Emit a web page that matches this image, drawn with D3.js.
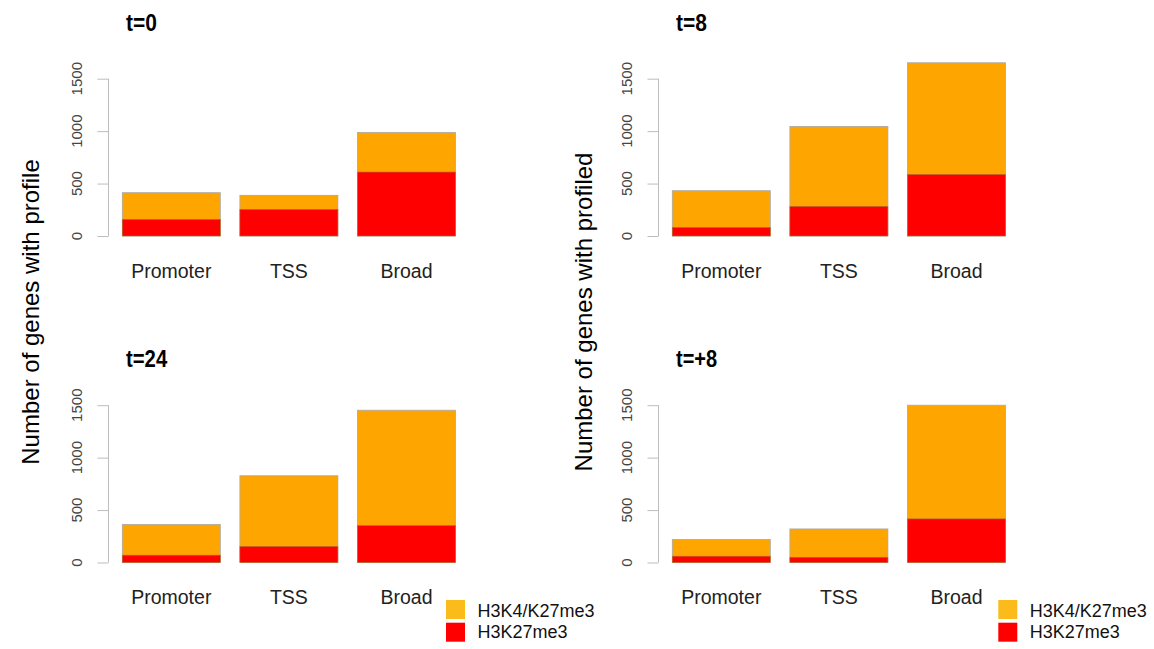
<!DOCTYPE html>
<html>
<head>
<meta charset="utf-8">
<script src="https://cdn.jsdelivr.net/npm/d3@7"></script>
<style>
  html, body { margin: 0; padding: 0; background: #fff; }
  svg text { font-family: "Liberation Sans", Arial, Helvetica, sans-serif; }
</style>
</head>
<body>
<svg id="chart" width="1154" height="649"></svg>
<script>
// ---- data ----
const categories = ["Promoter", "TSS", "Broad"];
const panelTitles = ["t=0", "t=8", "t=24", "t=+8"];
// H3K27me3 (red, bottom segment)
const k27_t0   = [159, 254, 610];
const k27_t8   = [82, 282, 587];
const k27_t24  = [70, 153, 353];
const k27_tp8  = [60, 50, 416];
// total height (H3K27me3 + H3K4/K27me3)
const total_t0  = [413, 388, 988];
const total_t8  = [432, 1045, 1652];
const total_t24 = [363, 827, 1452];
const total_tp8 = [219, 320, 1500];
const yTicks = [0, 500, 1000, 1500];
const seriesNames = ["H3K4/K27me3", "H3K27me3"];
const yTitles = ["Number of genes with profile", "Number of genes with profiled"];

const colOrange = "#ffa500", colRed = "#ff0000", legOrange = "#fbbb1b";

const panels = [
  {title: panelTitles[0], red: k27_t0,  total: total_t0,  dx: 0,   dy: 0,     titleY: 30.5},
  {title: panelTitles[1], red: k27_t8,  total: total_t8,  dx: 550, dy: 0,     titleY: 30.5},
  {title: panelTitles[2], red: k27_t24, total: total_t24, dx: 0,   dy: 326.5, titleY: 367},
  {title: panelTitles[3], red: k27_tp8, total: total_tp8, dx: 550, dy: 326.5, titleY: 367}
];

const svg = d3.select("#chart");

panels.forEach(p => {
  const g = svg.append("g").attr("transform", `translate(${p.dx},${p.dy})`);
  const x = d3.scaleBand().domain(categories).range([122.3, 455.5])
    .paddingInner(0.2 / 1.2).paddingOuter(0);
  const y = d3.scaleLinear().domain([0, 1500]).range([236, 78.7]);
  const axisX = 108.5;

  // title (condensed bold)
  g.append("text").attr("x", 126).attr("y", p.titleY - p.dy)
    .attr("font-size", 23).attr("font-weight", "bold").attr("fill", "#000")
    .attr("textLength", p.title.length * 10.3).attr("lengthAdjust", "spacingAndGlyphs")
    .text(p.title);

  // y axis
  const ax = g.append("g").attr("transform", `translate(${axisX},0)`)
    .call(d3.axisLeft(y).tickValues(yTicks).tickSize(11).tickFormat(""));
  ax.selectAll("path, line").attr("stroke", "#bdbdbd").attr("stroke-width", 1);
  ax.select("path").attr("d", `M0,${y(0)}V${y(1500)}`);
  g.selectAll("text.ytick").data(yTicks).join("text").attr("class", "ytick")
    .attr("transform", d => `translate(${axisX - 27},${y(d)}) rotate(-90)`)
    .attr("text-anchor", "middle").attr("font-size", 15).attr("fill", "#444")
    .text(d => d);

  // bars
  categories.forEach((c, i) => {
    g.append("rect").attr("x", x(c)).attr("width", x.bandwidth())
      .attr("y", y(p.total[i])).attr("height", y(0) - y(p.total[i]))
      .attr("fill", colOrange).attr("stroke", "#a8a8a8").attr("stroke-width", 0.8);
    g.append("rect").attr("x", x(c)).attr("width", x.bandwidth())
      .attr("y", y(p.red[i])).attr("height", y(0) - y(p.red[i]))
      .attr("fill", colRed).attr("stroke", "#b07030").attr("stroke-width", 0.6);
  });

  // category labels
  g.selectAll("text.cat").data(categories).join("text").attr("class", "cat")
    .attr("x", d => x(d) + x.bandwidth() / 2).attr("y", y(0) + 41.7)
    .attr("text-anchor", "middle").attr("font-size", 19.5).attr("fill", "#222")
    .text(d => d);
});

// y axis titles
[{x: 38.5, t: yTitles[0]}, {x: 592, t: yTitles[1]}].forEach(o => {
  svg.append("text").attr("transform", `translate(${o.x},312) rotate(-90)`)
    .attr("text-anchor", "middle").attr("font-size", 24).attr("fill", "#000")
    .text(o.t);
});

// legends
[446, 998.3].forEach(lx => {
  const lg = svg.append("g");
  const cols = [legOrange, colRed];
  seriesNames.forEach((s, i) => {
    lg.append("rect").attr("x", lx).attr("y", 600 + i * 22.7).attr("width", 19).attr("height", 19)
      .attr("fill", cols[i]);
    lg.append("text").attr("x", lx + 31.5).attr("y", 616.5 + i * 21.8)
      .attr("font-size", 18).attr("fill", "#111").text(s);
  });
});
</script>
</body>
</html>
